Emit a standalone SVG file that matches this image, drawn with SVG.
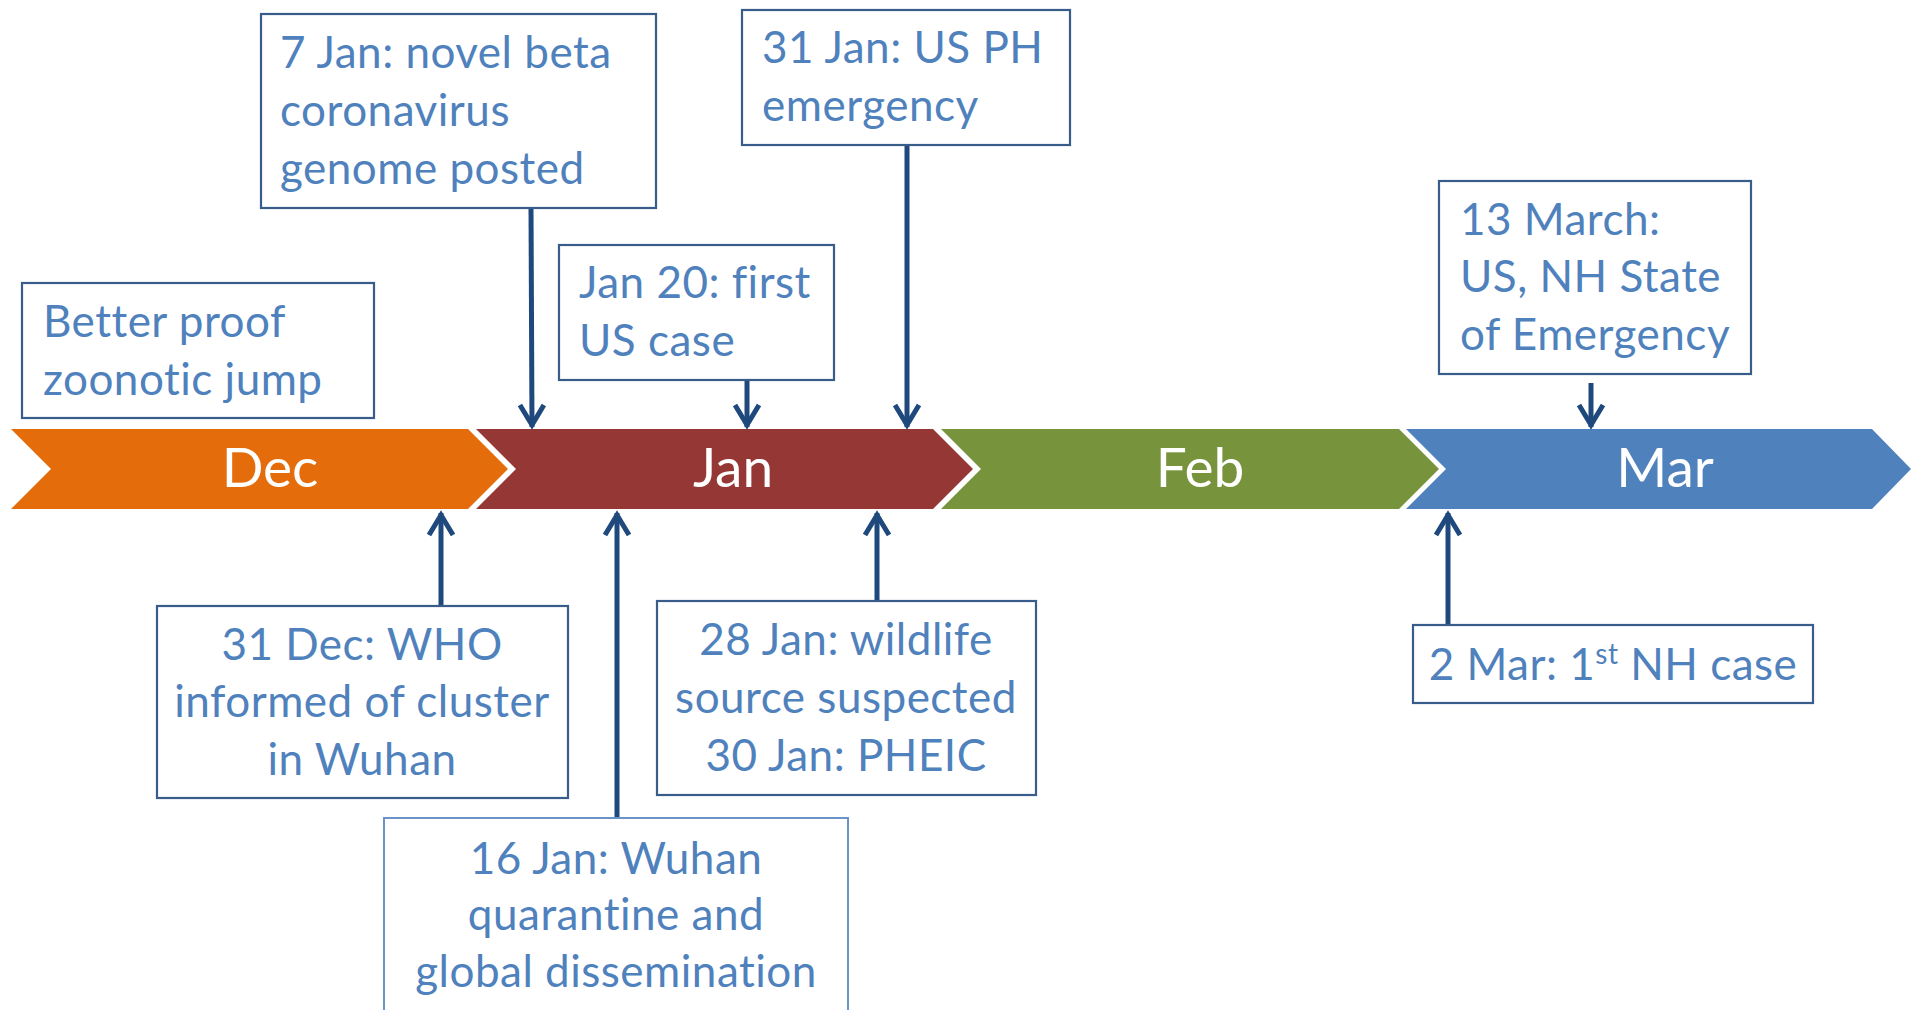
<svg xmlns="http://www.w3.org/2000/svg" width="1911" height="1010" viewBox="0 0 1911 1010">
<defs>
<style>
.box{fill:#FFFFFF;stroke:#385D8A;stroke-width:2.2}
.box2{fill:#FFFFFF;stroke:#6A93C8;stroke-width:2}
.t{font-family:Lato,"Liberation Sans",sans-serif;font-size:44px;letter-spacing:0.5px;fill:#4F81BD}
.c{text-anchor:middle}
.m{font-family:Lato,"Liberation Sans",sans-serif;font-size:55px;fill:#FFFFFF;text-anchor:middle}
.ar{stroke:#1F497D;stroke-width:5;fill:none}
</style>
<marker id="arr" markerUnits="userSpaceOnUse" viewBox="-26 -15 30 30" markerWidth="30" markerHeight="30" refX="0" refY="0" orient="auto">
<path d="M-22,-12 L-2,0 L-22,12" fill="none" stroke="#1F497D" stroke-width="5"/>
</marker>
</defs>
<rect width="1911" height="1010" fill="#FFFFFF"/>
<g id="timeline">
<g id="dec"><polygon points="11,429 468,429 508,469 468,509 11,509 51,469" fill="#E46C0A"/><text class="m" x="270" y="487">Dec</text></g>
<g id="jan"><polygon points="476,429 933,429 973,469 933,509 476,509 516,469" fill="#953735"/><text class="m" x="733" y="487">Jan</text></g>
<g id="feb"><polygon points="941,429 1399,429 1439,469 1399,509 941,509 981,469" fill="#77933C"/><text class="m" x="1200" y="487">Feb</text></g>
<g id="mar"><polygon points="1406,429 1872,429 1911,469 1872,509 1406,509 1446,469" fill="#4F81BD"/><text class="m" x="1665" y="487">Mar</text></g>
</g>
<g id="connectors">
<line class="ar" x1="531" y1="207" x2="532" y2="427" marker-end="url(#arr)"/>
<line class="ar" x1="747" y1="380" x2="747" y2="427" marker-end="url(#arr)"/>
<line class="ar" x1="907" y1="145" x2="907" y2="427" marker-end="url(#arr)"/>
<line class="ar" x1="1591" y1="383" x2="1591" y2="427" marker-end="url(#arr)"/>
<line class="ar" x1="441" y1="606" x2="441" y2="513" marker-end="url(#arr)"/>
<line class="ar" x1="617" y1="818" x2="617" y2="513" marker-end="url(#arr)"/>
<line class="ar" x1="877" y1="601" x2="877" y2="513" marker-end="url(#arr)"/>
<line class="ar" x1="1448" y1="625" x2="1448" y2="513" marker-end="url(#arr)"/>
</g>
<g id="n-zoonotic"><rect class="box" x="22" y="283" width="352" height="135"/>
<text class="t" x="43" y="337">Better proof</text><text class="t" x="43" y="395">zoonotic jump</text></g>
<g id="n-7jan"><rect class="box" x="261" y="14" width="395" height="194"/>
<text class="t" x="280" y="68">7 Jan: novel beta</text><text class="t" x="280" y="126">coronavirus</text><text class="t" x="280" y="184">genome posted</text></g>
<g id="n-31jan"><rect class="box" x="742" y="10" width="328" height="135"/>
<text class="t" x="762" y="63">31 Jan: US PH</text><text class="t" x="762" y="121">emergency</text></g>
<g id="n-jan20"><rect class="box" x="559" y="245" width="275" height="135"/>
<text class="t" x="579" y="298">Jan 20: first</text><text class="t" x="579" y="356">US case</text></g>
<g id="n-13mar"><rect class="box" x="1439" y="181" width="312" height="193"/>
<text class="t" x="1460" y="235">13 March:</text><text class="t" x="1460" y="292">US, NH State</text><text class="t" x="1460" y="350">of Emergency</text></g>
<g id="n-31dec"><rect class="box" x="157" y="606" width="411" height="192"/>
<text class="t c" x="362" y="660">31 Dec: WHO</text><text class="t c" x="362" y="717">informed of cluster</text><text class="t c" x="362" y="775">in Wuhan</text></g>
<g id="n-16jan"><path class="box2" d="M384,1012 L384,818 L848,818 L848,1012"/>
<text class="t c" x="616" y="874">16 Jan: Wuhan</text><text class="t c" x="616" y="930">quarantine and</text><text class="t c" x="616" y="987">global dissemination</text></g>
<g id="n-28jan"><rect class="box" x="657" y="601" width="379" height="194"/>
<text class="t c" x="846" y="655">28 Jan: wildlife</text><text class="t c" x="846" y="713">source suspected</text><text class="t c" x="846" y="771">30 Jan: PHEIC</text></g>
<g id="n-2mar"><rect class="box" x="1413" y="625" width="400" height="78"/>
<text class="t c" x="1613" y="680">2 Mar: 1<tspan font-size="28" dy="-16">st</tspan><tspan dy="16"> NH case</tspan></text></g>
</svg>
